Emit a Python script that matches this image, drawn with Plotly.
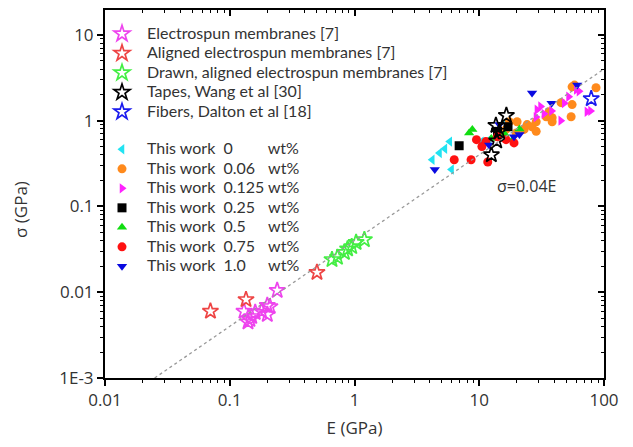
import plotly.graph_objects as go
import numpy as np

# ---------------- data (E in GPa, sigma in GPa) ----------------
lit_names = ["Electrospun membranes [7]", "Aligned electrospun membranes [7]",
             "Drawn, aligned electrospun membranes [7]", "Tapes, Wang et al [30]",
             "Fibers, Dalton et al [18]"]
elec_E = [0.13, 0.14, 0.145, 0.15, 0.16, 0.18, 0.20, 0.20, 0.21, 0.24]
elec_s = [0.006, 0.0045, 0.0048, 0.0052, 0.0058, 0.006, 0.0055, 0.007, 0.0068, 0.0105]
align_E = [0.07, 0.135, 0.5]
align_s = [0.006, 0.0082, 0.017]
drawn_E = [0.66, 0.73, 0.83, 0.88, 0.95, 1.03, 1.2]
drawn_s = [0.024, 0.0255, 0.029, 0.032, 0.034, 0.038, 0.041]
tape_E = [12.5, 13.8, 13.6, 14.5, 16.5]
tape_s = [0.40, 0.58, 0.88, 0.75, 1.15]
fiber_E = [79]
fiber_s = [1.8]

wt_labels = ["0", "0.06", "0.125", "0.25", "0.5", "0.75", "1.0"]
w0_E = [4.2, 4.8, 5.3, 5.8, 6.0, 10.4, 12.0, 16.4]
w0_s = [0.35, 0.42, 0.47, 0.57, 0.27, 0.57, 0.60, 0.95]
w006_E = [16.4, 17.4, 19.8, 20.1, 22.9, 24.2, 26.5, 28.6, 28.6, 34.4, 36.3, 38.4, 45.3, 54.5, 55.5, 55.5, 86.3, 38.4, 58.0]
w006_s = [0.79, 0.97, 0.72, 0.97, 0.79, 0.90, 0.85, 0.97, 0.75, 1.11, 1.27, 1.08, 1.62, 1.11, 1.54, 2.48, 2.42, 0.97, 2.6]
w0125_E = [28.5, 29.0, 31.0, 33.0, 38.0, 45.0, 48.0, 52.0, 60.0, 63.0, 73.0, 78.0]
w0125_s = [1.10, 1.34, 1.46, 1.20, 1.30, 1.00, 1.60, 1.90, 2.30, 2.20, 1.27, 1.30]
w025_E = [6.9, 14.0, 17.0]
w025_s = [0.51, 0.75, 0.85]
w05_E = [8.3, 8.8, 12.5, 16.0, 18.5, 21.0]
w05_s = [0.72, 0.79, 0.62, 0.70, 0.60, 0.80]
w075_E = [6.3, 8.6, 9.5, 10.5, 11.3, 11.7, 14.0, 16.4, 19.0]
w075_s = [0.35, 0.35, 0.60, 0.50, 0.57, 0.33, 0.65, 0.60, 0.55]
w10_E = [4.4, 12.0, 14.5, 19.0, 21.0, 26.5, 38.0, 61.0]
w10_s = [0.27, 0.52, 0.90, 0.65, 0.69, 2.10, 1.60, 2.60]

fit_E = [0.025, 100.0]
fit_slope = 0.04

x_ticks = [0.01, 0.1, 1, 10, 100]
x_ticktext = ["0.01", "0.1", "1", "10", "100"]
y_ticks = [0.001, 0.01, 0.1, 1, 10]
y_ticktext = ["1E-3", "0.01", "0.1", "1", "10"]

# ---------------- figure ----------------
FONT = "Open Sans"
LEG_FONT = "Lato"
TXT = "#333333"
NB = "\u00a0"
FIG = "\u2007"   # figure space (digit width)
PUN = "\u2008"   # punctuation space (period width)
LEG_TXT = '<span style="font-size:16px">{}</span>'

W, H = 625, 439
ML, MR, MT, MB = 97, 29, 2, 69
pw, ph = W - ML - MR, H - MT - MB

fig = go.Figure()

# fit line drawn on the overlay axes (same ranges) so they get rendered
fig.add_trace(go.Scatter(x=fit_E, y=[fit_slope * e for e in fit_E], mode="lines",
                         line=dict(color="#999999", width=1.3, dash="3px,3px"),
                         showlegend=False, hoverinfo="skip", xaxis="x2", yaxis="y2"))

pads = {"0": FIG * 3 + PUN, "0.06": FIG, "0.125": "", "0.25": FIG, "0.5": FIG * 2,
        "0.75": FIG, "1.0": FIG * 2}
work = [
    (w0_E, w0_s, "triangle-left", "#22e3f2"),
    (w006_E, w006_s, "circle", "#ff8a1c"),
    (w0125_E, w0125_s, "triangle-right", "#ff22ff"),
    (w025_E, w025_s, "square", "#000000"),
    (w05_E, w05_s, "triangle-up", "#11dd11"),
    (w075_E, w075_s, "circle", "#ff1111"),
    (w10_E, w10_s, "triangle-down", "#0a0ae0"),
]
for i, ((ex, sy, sym, col), lab) in enumerate(zip(work, wt_labels)):
    name = "This work" + NB * 2 + lab + pads[lab] + NB + "wt%"
    fig.add_trace(go.Scatter(x=ex, y=sy, mode="markers", name=LEG_TXT.format(name),
                             marker=dict(symbol=sym, color=col, size=9, line=dict(width=0)),
                             legendgroup="work", legendrank=100 + i))

lits = [
    (elec_E, elec_s, "#ee44ee"),
    (align_E, align_s, "#ee4444"),
    (drawn_E, drawn_s, "#44ee44"),
    (tape_E, tape_s, "#000000"),
    (fiber_E, fiber_s, "#1a1aee"),
]
for i, ((ex, sy, col), nm) in enumerate(zip(lits, lit_names)):
    fig.add_trace(go.Scatter(x=ex, y=sy, mode="markers", name=LEG_TXT.format(nm),
                             marker=dict(symbol="star-open", size=12, color=col,
                                         line=dict(width=1.7, color=col)),
                             legendgroup="lit", legendrank=i + 1))

minor_vals = [m * 10.0 ** d for d in range(-3, 2) for m in range(2, 10)]

axis_common = dict(type="log", showgrid=False, zeroline=False, showline=True,
                   linecolor="black", linewidth=2, ticks="outside", ticklen=6,
                   tickwidth=1.5, tickcolor="black",
                   tickfont=dict(family=FONT, size=17, color=TXT))
overlay_common = dict(type="log", showgrid=False, zeroline=False, showline=True,
                      linecolor="black", linewidth=2, showticklabels=False,
                      tickmode="array", ticks="inside", ticklen=6, tickwidth=1.5,
                      tickcolor="black")
minor_out = dict(tickmode="array", tickvals=minor_vals, ticks="outside",
                 ticklen=3, tickwidth=1.2, tickcolor="black")
minor_in = dict(tickmode="array", tickvals=minor_vals, ticks="inside",
                ticklen=3, tickwidth=1.2, tickcolor="black")

fig.update_layout(
    width=W, height=H,
    margin=dict(l=ML, r=MR, t=MT, b=MB),
    paper_bgcolor="white", plot_bgcolor="white",
    font=dict(family=FONT, color=TXT),
    xaxis=dict(**axis_common, range=[-2, 2], tickmode="array", tickvals=x_ticks,
               ticktext=x_ticktext, minor=minor_out,
               title=dict(text="E (GPa)", font=dict(family=FONT, size=17, color=TXT),
                          standoff=12)),
    yaxis=dict(**axis_common, range=[-3, 1.29], tickmode="array", tickvals=y_ticks,
               ticktext=y_ticktext, minor=minor_out),
    xaxis2=dict(**overlay_common, overlaying="x", side="top", range=[-2, 2],
                tickvals=x_ticks, minor=minor_in, anchor="y2"),
    yaxis2=dict(**overlay_common, overlaying="y", side="right", range=[-3, 1.29],
                tickvals=y_ticks, minor=minor_in, anchor="x2"),
    legend=dict(x=-8 / pw, y=1 - 9 / ph, xanchor="left", yanchor="top",
                bgcolor="rgba(0,0,0,0)", itemwidth=40,
                font=dict(family=LEG_FONT, size=12.7, color=TXT), traceorder="grouped",
                tracegroupgap=18, itemsizing="trace"),
)

fig.add_annotation(text="σ=0.04E", x=np.log10(24), y=np.log10(0.175), xref="x", yref="y",
                   showarrow=False, font=dict(family=FONT, size=16, color=TXT))
# y-axis title
fig.add_annotation(text="σ (GPa)", x=(12 - ML) / pw, y=(H - MB - 202) / ph,
                   xref="paper", yref="paper", showarrow=False, textangle=-90,
                   xanchor="center", yanchor="middle",
                   font=dict(family=FONT, size=17, color=TXT))

fig.write_html("out.html")
